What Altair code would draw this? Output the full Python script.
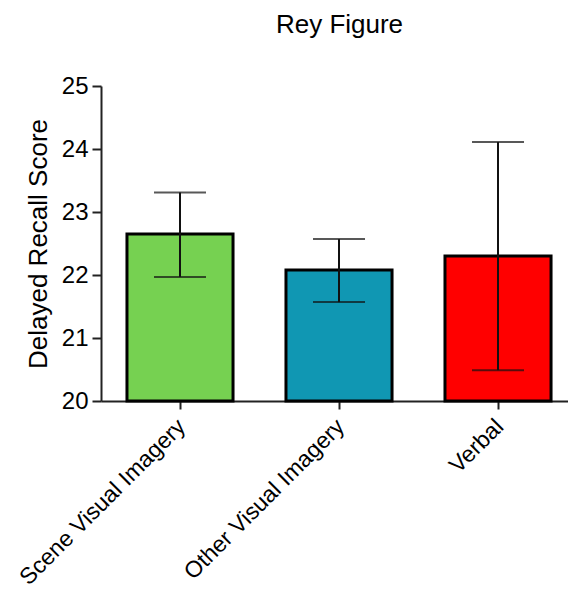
import altair as alt
import pandas as pd

# Delayed recall scores per encoding strategy (mean with error range)
categories = ["Scene Visual Imagery", "Other Visual Imagery", "Verbal"]
means = [22.65, 22.08, 22.30]
err_low = [21.97, 21.57, 20.49]
err_high = [23.31, 22.57, 24.11]
bar_colors = ["#76D151", "#1097B3", "#FF0000"]

df = pd.DataFrame({
    "category": categories,
    "mean": means,
    "low": err_low,
    "high": err_high,
})

FONT = "Liberation Sans"

x_scale = alt.Scale(paddingInner=0.333, paddingOuter=0.135, align=0.605)
y_scale = alt.Scale(domain=[20, 25], nice=False, zero=False)

x_axis = alt.Axis(
    title=None,
    labelAngle=-45,
    labelAlign="right",
    labelBaseline="top",
    labelFontSize=23,
    labelFont=FONT,
    labelColor="black",
    labelPadding=6,
    labelOffset=-6,
    labelLimit=0,
    tickSize=8,
    tickWidth=2,
    tickColor="#222222",
    domainColor="#222222",
    domainWidth=2,
    grid=False,
)

y_axis = alt.Axis(
    title="Delayed Recall Score",
    titleFontSize=26,
    titleFont=FONT,
    titleFontWeight="normal",
    titleColor="black",
    titlePadding=10,
    values=[20, 21, 22, 23, 24, 25],
    format="d",
    labelFontSize=24,
    labelFont=FONT,
    labelColor="black",
    labelPadding=4,
    tickSize=9,
    tickWidth=2,
    tickColor="#222222",
    domainColor="#222222",
    domainWidth=2,
    grid=False,
)

bars = alt.Chart(df).mark_bar(stroke="black", strokeWidth=3).encode(
    x=alt.X("category:N", sort=categories, scale=x_scale, axis=x_axis),
    y=alt.Y("mean:Q", scale=y_scale, axis=y_axis),
    y2=alt.Y2(datum=20),
    color=alt.Color("category:N", scale=alt.Scale(domain=categories, range=bar_colors), legend=None),
)

stems = alt.Chart(df).mark_rule(color="#111111", strokeWidth=2).encode(
    x=alt.X("category:N", sort=categories, scale=x_scale, axis=x_axis),
    y=alt.Y("low:Q", scale=y_scale, axis=y_axis),
    y2="high:Q",
)

caps_top = alt.Chart(df).mark_tick(color="#111111", thickness=2, size=52).encode(
    x=alt.X("category:N", sort=categories, scale=x_scale, axis=x_axis),
    y=alt.Y("high:Q", scale=y_scale, axis=y_axis),
)

caps_bottom = alt.Chart(df).mark_tick(color="#111111", thickness=2, size=52).encode(
    x=alt.X("category:N", sort=categories, scale=x_scale, axis=x_axis),
    y=alt.Y("low:Q", scale=y_scale, axis=y_axis),
)

chart = (
    alt.layer(bars, stems, caps_top, caps_bottom)
    .properties(
        width=467,
        height=315,
        autosize=alt.AutoSizeParams(type="none"),
        padding={"left": 101, "top": 86, "right": 0, "bottom": 189},
        view=alt.ViewBackground(stroke="transparent"),
        title=alt.TitleParams(
            "Rey Figure",
            font=FONT,
            fontSize=26,
            fontWeight="normal",
            color="black",
            anchor="middle",
            dx=5,
            offset=36,
        ),
    )
    .configure_view(stroke="transparent", strokeWidth=0)
    .configure_axis(grid=False)
    .configure(background="white")
)

chart.save("out.html", embed_options={"renderer": "svg", "actions": False})
